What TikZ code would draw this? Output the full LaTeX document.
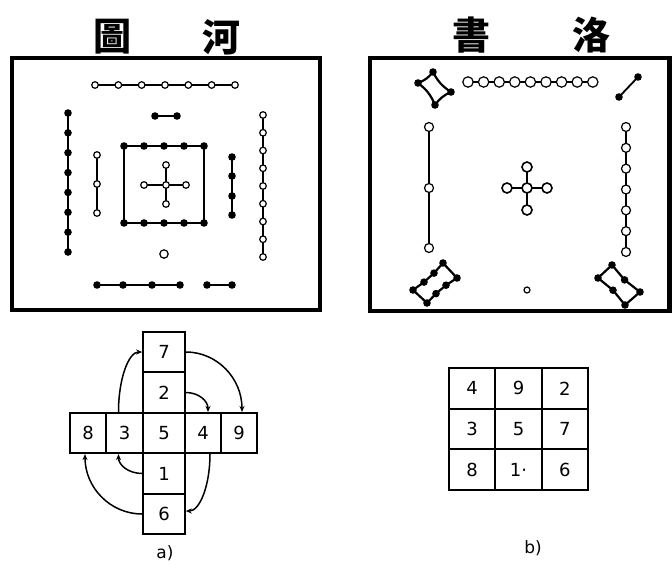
\documentclass[tikz,border=0pt]{standalone}
\usepackage{fontspec}
\setmainfont{DejaVu Sans}
\newfontfamily\cjk{Noto Sans CJK TC}
\usetikzlibrary{arrows.meta}

\tikzset{
  frame/.style={line width=4.5pt},
  link/.style={line width=1.2pt},
  bdot/.style={fill=black},
  wdot/.style={draw=black,fill=white,line width=1.2pt},
  title/.style={font=\cjk\bfseries\fontsize{38}{38}\selectfont},
  cell/.style={draw,line width=1.6pt,inner sep=0pt,minimum width=36pt,minimum height=40.5pt,font=\fontsize{18}{18}\selectfont},
  qcell/.style={draw,line width=2pt,inner sep=0pt,minimum width=46.33pt,minimum height=40.67pt,font=\fontsize{18}{18}\selectfont},
  flow/.style={line width=1.5pt,-{Stealth[length=6pt,width=5pt]}},
  tag/.style={font=\fontsize{17}{17}\selectfont}
}

\begin{document}
\begin{tikzpicture}[x=1pt,y=1pt]
  \useasboundingbox (0,-568) rectangle (672,0);

  % titles
  \node[title] (tu) at (112,-37) {圖};
  \node[title] (he) at (221,-37) {河};
  \node[title] (shu) at (471,-35) {書};
  \node[title] (luo) at (591,-35) {洛};

  \draw[frame] (12,-58) rectangle (320,-310);
  \draw[frame] (370,-58) rectangle (669.5,-311);

  % he tu
  \draw[link] (95,-85) -- (235,-85);
  \foreach \i in {0,...,6} \filldraw[wdot] ({95+\i*23.33},-85) circle (3.3pt);
  \draw[link] (155,-116) -- (177,-116);
  \foreach \x in {155,177} \fill[bdot] (\x,-116) circle (3.8pt);
  \draw[link] (68,-113) -- (68,-252);
  \foreach \i in {0,...,7} \fill[bdot] (68,{-113-\i*19.86}) circle (3.8pt);
  \draw[link] (97,-155) -- (97,-213);
  \foreach \y in {155,184,213} \filldraw[wdot] (97,-\y) circle (3.3pt);
  \draw[line width=1.8pt] (124,-146) rectangle (204,-223);
  \foreach \i in {0,...,4} {
    \fill[bdot] ({124+\i*20},-146) circle (3.8pt);
    \fill[bdot] ({124+\i*20},-223) circle (3.8pt);
  }
  \draw[link] (166,-165) -- (166,-204) (144,-185) -- (186,-185);
  \foreach \p in {(166,-165),(166,-204),(144,-185),(186,-185),(166,-185)}
    \filldraw[wdot] \p circle (3.3pt);
  \draw[link] (232,-157) -- (232,-215);
  \foreach \y in {157,176,196,215} \fill[bdot] (232,-\y) circle (3.8pt);
  \draw[link] (263,-115) -- (263,-257);
  \foreach \i in {0,...,8} \filldraw[wdot] (263,{-115-\i*17.75}) circle (3.3pt);
  \filldraw[wdot] (164,-254) circle (4.2pt);
  \draw[link] (97,-285) -- (180,-285) (207,-285) -- (232,-285);
  \foreach \x in {97,123,152,180,207,232} \fill[bdot] (\x,-285) circle (3.8pt);

  % luo shu
  \draw[line width=2.2pt] (433,-72) to[bend right=15] (451,-92) to[bend right=15] (435,-105)
    to[bend right=15] (418,-83) to[bend right=15] (433,-72);
  \foreach \p in {(433,-72),(451,-92),(435,-105),(418,-83)} \fill[bdot] \p circle (3.8pt);
  \draw[line width=1.8pt] (619,-97) -- (638,-77);
  \foreach \p in {(619,-97),(638,-77)} \fill[bdot] \p circle (3.8pt);
  \draw[link] (468,-82) -- (593,-82);
  \foreach \i in {0,...,8} \filldraw[wdot] ({468+\i*15.6},-82) circle (5.2pt);
  \draw[link] (429,-127) -- (429,-248);
  \foreach \y in {127,188,248} \filldraw[wdot] (429,-\y) circle (4.5pt);
  \draw[line width=1.6pt] (527,-167) -- (527,-210) (507,-188) -- (547,-188);
  \foreach \p in {(527,-167),(527,-210),(507,-188),(547,-188),(527,-188)}
    \filldraw[wdot,line width=1.6pt] \p circle (5pt);
  \draw[link] (626,-127) -- (626,-252);
  \foreach \i in {0,...,6} \filldraw[wdot] (626,{-127-\i*20.83}) circle (4.5pt);
  \filldraw[wdot] (527,-290) circle (3pt);
  \draw[line width=2.2pt] (413,-290) -- (424,-282.1) -- (434,-273.1) -- (443,-263) -- (457,-278)
    -- (446,-285.2) -- (436,-293.6) -- (427,-303) -- cycle;
  \foreach \p in {(413,-290),(424,-282.1),(434,-273.1),(443,-263),(457,-278),(446,-285.2),(436,-293.6),(427,-303)}
    \fill[bdot] \p circle (3.8pt);
  \draw[line width=2.2pt] (612,-265) -- (624.6,-279.9) -- (640,-292) -- (625,-305) -- (613,-290.2)
    -- (598,-278) -- cycle;
  \foreach \p in {(612,-265),(624.6,-279.9),(640,-292),(625,-305),(613,-290.2),(598,-278)}
    \fill[bdot] \p circle (3.8pt);

  % cross of numbers
  \node[cell,minimum width=42pt] (c7) at (164,-352) {7};
  \node[cell,minimum width=42pt] (c2) at (164,-392.5) {2};
  \node[cell,minimum width=42pt] (c5) at (164,-433) {5};
  \node[cell,minimum width=42pt] (c1) at (164,-473.5) {1};
  \node[cell,minimum width=42pt] (c6) at (164,-514) {6};
  \node[cell] (c8) at (88,-433) {8};
  \node[cell,minimum width=37pt] (c3) at (124.5,-433) {3};
  \node[cell] (c4) at (203,-433) {4};
  \node[cell] (c9) at (239,-433) {9};

  \draw[flow] ([xshift=-6pt]c3.north) to[out=90,in=180,out distance=33.5pt,in distance=13.5pt] (c7.west);
  \draw[flow] (c7.east) to[out=0,in=90,out distance=31.5pt,in distance=33.5pt] ([xshift=3pt]c9.north);
  \draw[flow] (c2.east) to[out=0,in=90,out distance=12.7pt,in distance=11.2pt] ([xshift=5pt]c4.north);
  \draw[flow] (c6.west) to[out=180,in=-90,out distance=32pt,in distance=33.5pt] ([xshift=-3pt]c8.south);
  \draw[flow] (c1.west) to[out=180,in=-90,out distance=13.5pt,in distance=11.2pt] ([xshift=-6pt]c3.south);
  \draw[flow] ([xshift=7pt]c4.south) to[out=-90,in=0,out distance=31.9pt,in distance=13.8pt] ([yshift=3pt]c6.east);

  % magic square
  \foreach \n [count=\i from 0] in {4,9,2,3,5,7,8,1·,6} {
    \pgfmathsetmacro\cx{449+46.33*(mod(\i,3)+0.5)}
    \pgfmathsetmacro\cy{-368-40.67*(floor(\i/3)+0.5)}
    \node[qcell] (q\i) at (\cx,\cy) {\n};
  }

  \node[tag] (la) at (165,-553) {a)};
  \node[tag] (lb) at (533,-548) {b)};
\end{tikzpicture}
\end{document}
